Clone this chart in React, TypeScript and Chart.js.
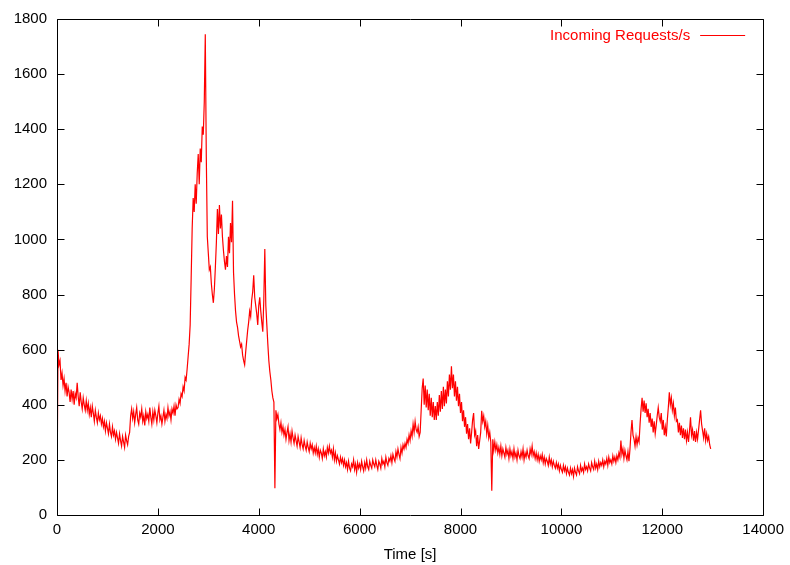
import React, { useEffect, useRef } from "react";
import { Chart, registerables } from "chart.js";

Chart.register(...registerables);

// Sampling step of the series (seconds between samples)
const STEP = 20;

// Incoming requests per second, one value every STEP seconds starting at t = 0
const requests: number[] = [
  70, 600, 545, 560, 490, 515, 470, 495, 450, 480, 430, 465, 445, 410, 455,
  420, 450, 400, 440, 425, 480, 430, 395, 445, 410, 385, 425, 400, 380, 415,
  380, 405, 365, 390, 355, 395, 370, 340, 380, 355, 335, 370, 345, 360, 330,
  350, 320, 340, 305, 335, 315, 295, 330, 300, 285, 320, 290, 305, 275, 300,
  280, 260, 295, 270, 250, 285, 265, 245, 290, 270, 255, 285, 300, 360, 385,
  350, 375, 335, 365, 390, 345, 330, 370, 355, 385, 340, 360, 325, 375, 350,
  365, 340, 390, 355, 330, 375, 345, 380, 360, 335, 370, 395, 345, 360, 330,
  355, 380, 340, 365, 350, 390, 360, 375, 345, 385, 370, 395, 360, 400, 385,
  390, 420, 405, 440, 430, 465, 450, 500, 490, 530, 575, 620, 690, 860, 1040,
  1150, 1100, 1200, 1130, 1240, 1310, 1200, 1330, 1280, 1410, 1380, 1500, 1745, 1300, 1010,
  950, 890, 900, 840, 800, 770, 820, 900, 990, 1110, 1020, 1125, 1040, 1090, 1010,
  960, 920, 890, 940, 900, 1010, 950, 1060, 990, 1140, 880, 800, 740, 700, 680,
  650, 630, 610, 620, 580, 560, 545, 590, 630, 670, 700, 740, 720, 780, 810,
  870, 790, 760, 730, 690, 760, 790, 740, 700, 665, 780, 965, 760, 690, 620,
  560, 520, 490, 450, 425, 410, 97, 380, 350, 365, 330, 310, 335, 300, 320,
  290, 310, 275, 300, 320, 270, 295, 265, 305, 280, 260, 290, 270, 250, 285,
  265, 245, 280, 255, 240, 270, 250, 235, 265, 245, 230, 260, 240, 255, 225,
  245, 225, 250, 220, 240, 210, 235, 225, 205, 240, 215, 230, 210, 245, 225,
  250, 225, 235, 210, 240, 200, 225, 195, 215, 200, 185, 210, 190, 205, 180,
  200, 175, 190, 165, 195, 170, 160, 185, 175, 200, 165, 185, 155, 190, 170,
  185, 165, 195, 175, 160, 190, 170, 200, 175, 165, 195, 180, 170, 200, 185,
  175, 200, 180, 165, 195, 185, 170, 205, 185, 195, 175, 210, 190, 180, 205,
  195, 215, 190, 220, 205, 195, 230, 210, 240, 220, 205, 245, 225, 255, 240,
  260, 245, 275, 260, 290, 270, 305, 285, 330, 300, 340, 310, 300, 320, 285,
  300, 380, 460, 495, 400, 470, 390, 455, 380, 440, 360, 425, 355, 410, 345,
  395, 345, 410, 360, 435, 375, 450, 385, 465, 395, 455, 405, 485, 430, 510,
  455, 540, 460, 510, 430, 485, 415, 465, 395, 440, 370, 410, 340, 380, 320,
  355, 295, 330, 275, 315, 260, 300, 345, 370, 290, 305, 250, 290, 240, 270,
  300, 378, 340, 360, 320, 340, 295, 325, 280, 300, 265, 88, 275, 235, 265,
  235, 255, 225, 245, 220, 250, 215, 240, 225, 210, 245, 220, 235, 205, 240,
  215, 230, 205, 240, 210, 225, 200, 235, 215, 205, 230, 210, 240, 200, 225,
  210, 235, 215, 205, 240, 220, 250, 215, 230, 205, 225, 200, 220, 195, 215,
  200, 220, 190, 210, 185, 205, 195, 180, 210, 185, 200, 175, 195, 180, 170,
  190, 170, 185, 160, 180, 165, 155, 180, 160, 175, 150, 170, 155, 145, 170,
  150, 165, 140, 170, 155, 145, 175, 160, 150, 180, 160, 170, 155, 185, 165,
  175, 160, 185, 170, 160, 190, 175, 165, 195, 170, 185, 165, 195, 175, 190,
  180, 200, 175, 195, 185, 205, 180, 210, 190, 200, 185, 215, 195, 210, 190,
  215, 200, 225, 210, 270, 220, 240, 205, 235, 215, 200, 230, 195, 240, 300,
  345, 290, 275, 250, 285, 255, 280, 265, 330, 385, 425, 375, 415, 370, 405,
  355, 385, 335, 370, 320, 350, 300, 340, 295, 325, 360, 390, 355, 340, 370,
  310, 345, 290, 320, 285, 345, 390, 445, 400, 425, 380, 405, 360, 390, 340,
  345, 300, 335, 290, 325, 280, 315, 275, 310, 270, 300, 265, 305, 355, 290,
  310, 270, 305, 265, 300, 275, 310, 345, 380, 330, 305, 280, 315, 270, 295,
  270, 285, 255, 240,
];

const X_MIN = 0;
const X_MAX = 14000;
const X_STEP = 2000;
const Y_MIN = 0;
const Y_MAX = 1800;
const Y_STEP = 200;

const SERIES_LABEL = "Incoming Requests/s";
const X_TITLE = "Time [s]";

const FONT = "'Liberation Sans', Arial, Helvetica, sans-serif";
const RED = "#ff0000";

const framePlugin = {
  id: "gnuFrame",
  afterDraw(chart: any) {
    const { ctx, chartArea } = chart;
    const { left, right, top, bottom } = chartArea;
    const xs = chart.scales.x;
    const ys = chart.scales.y;
    const L = Math.round(left) + 0.5;
    const R = Math.round(right) + 0.5;
    const T = Math.round(top) + 0.5;
    const B = Math.round(bottom) + 0.5;
    const TL = 7;
    ctx.save();
    ctx.strokeStyle = "#000";
    ctx.lineWidth = 1;
    ctx.beginPath();
    ctx.moveTo(L, T);
    ctx.lineTo(R, T);
    ctx.lineTo(R, B);
    ctx.lineTo(L, B);
    ctx.closePath();
    xs.ticks.forEach((t: any) => {
      const px = Math.round(xs.getPixelForValue(t.value)) + 0.5;
      ctx.moveTo(px, B);
      ctx.lineTo(px, B - TL);
      ctx.moveTo(px, T);
      ctx.lineTo(px, T + TL);
    });
    ys.ticks.forEach((t: any) => {
      const py = Math.round(ys.getPixelForValue(t.value)) + 0.5;
      ctx.moveTo(L, py);
      ctx.lineTo(L + TL, py);
      ctx.moveTo(R, py);
      ctx.lineTo(R - TL, py);
    });
    ctx.stroke();

    // gnuplot-style key: text then line sample, top right inside plot
    const ky = Math.round(top + 16) + 0.5;
    ctx.font = `15px ${FONT}`;
    ctx.fillStyle = RED;
    ctx.textAlign = "right";
    ctx.textBaseline = "middle";
    ctx.fillText(SERIES_LABEL, right - 73, ky);
    ctx.strokeStyle = RED;
    ctx.beginPath();
    ctx.moveTo(right - 63, ky);
    ctx.lineTo(right - 18, ky);
    ctx.stroke();
    ctx.restore();
  },
};

export default function App() {
  const ref = useRef<HTMLCanvasElement | null>(null);

  useEffect(() => {
    if (!ref.current) return;
    const points = requests.map((v, i) => ({ x: i * STEP, y: v }));
    const chart = new Chart(ref.current, {
      type: "line",
      data: {
        datasets: [
          {
            label: SERIES_LABEL,
            data: points,
            borderColor: RED,
            borderWidth: 1.2,
            pointRadius: 0,
            tension: 0,
            fill: false,
          },
        ],
      },
      options: {
        responsive: false,
        animation: false,
        devicePixelRatio: 1,
        parsing: false as any,
        layout: { padding: { left: 0, right: 26, top: 15, bottom: 0 } },
        plugins: {
          legend: { display: false },
          tooltip: { enabled: false },
        },
        scales: {
          x: {
            type: "linear",
            min: X_MIN,
            max: X_MAX,
            grid: { display: false, drawTicks: false },
            border: { display: false },
            ticks: {
              stepSize: X_STEP,
              color: "#000",
              font: { size: 15, family: FONT },
              padding: 6,
              maxRotation: 0,
              autoSkip: false,
              callback: (v: any) => String(v),
            },
            title: {
              display: true,
              text: X_TITLE,
              color: "#000",
              font: { size: 15, family: FONT },
              padding: { top: 0, bottom: 1 },
            },
            afterFit: (s: any) => {
              s.height = 50;
            },
          },
          y: {
            type: "linear",
            min: Y_MIN,
            max: Y_MAX,
            grid: { display: false, drawTicks: false },
            border: { display: false },
            ticks: {
              stepSize: Y_STEP,
              color: "#000",
              font: { size: 15, family: FONT },
              padding: 10,
              autoSkip: false,
              callback: (v: any) => String(v),
            },
            afterFit: (s: any) => {
              s.width = 57;
            },
          },
        },
      },
      plugins: [framePlugin],
    });
    return () => chart.destroy();
  }, []);

  return (
    <div style={{ position: "fixed", left: 0, top: 0, width: 790, height: 565, background: "#fff" }}>
      <canvas ref={ref} width={790} height={565} style={{ display: "block", width: 790, height: 565 }} />
    </div>
  );
}
